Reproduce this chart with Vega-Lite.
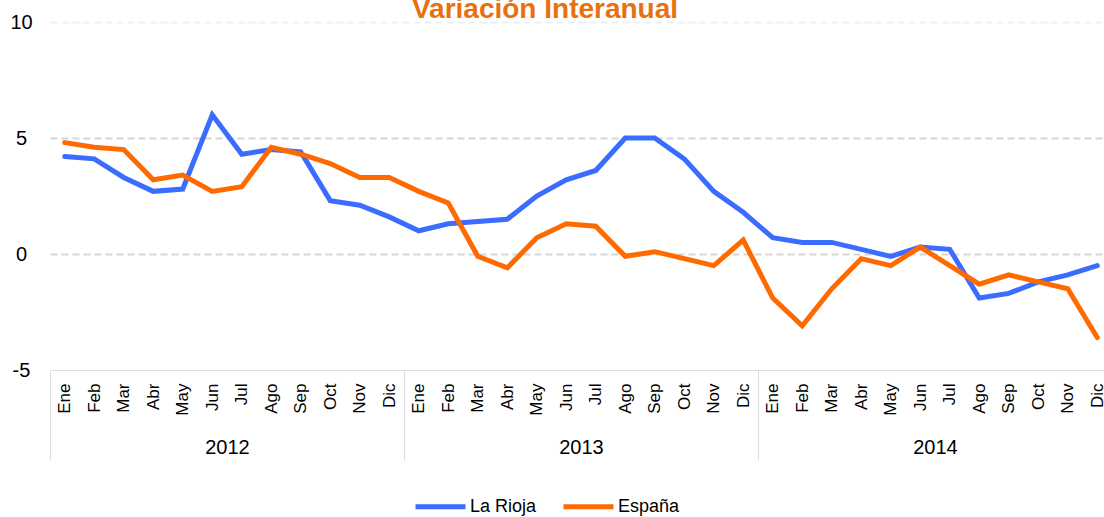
{
  "$schema": "https://vega.github.io/schema/vega-lite/v6.json",
  "width": 1054,
  "height": 348,
  "autosize": {"type": "none"},
  "padding": {"left": 50, "top": 22, "right": 0, "bottom": 147},
  "background": "white",
  "config": {"font": "Liberation Sans", "view": {"stroke": null}},
  "title": {
    "text": "Variación Interanual",
    "color": "#E8700F",
    "fontSize": 28,
    "fontWeight": "bold",
    "anchor": "middle",
    "dx": -32,
    "baseline": "alphabetic",
    "offset": -34
  },
  "data": {
    "values": [
      {"p": "2012 Ene", "a": "2012", "s": "La Rioja", "v": 4.2},
      {"p": "2012 Feb", "a": "2012", "s": "La Rioja", "v": 4.1},
      {"p": "2012 Mar", "a": "2012", "s": "La Rioja", "v": 3.3},
      {"p": "2012 Abr", "a": "2012", "s": "La Rioja", "v": 2.7},
      {"p": "2012 May", "a": "2012", "s": "La Rioja", "v": 2.8},
      {"p": "2012 Jun", "a": "2012", "s": "La Rioja", "v": 6.0},
      {"p": "2012 Jul", "a": "2012", "s": "La Rioja", "v": 4.3},
      {"p": "2012 Ago", "a": "2012", "s": "La Rioja", "v": 4.5},
      {"p": "2012 Sep", "a": "2012", "s": "La Rioja", "v": 4.4},
      {"p": "2012 Oct", "a": "2012", "s": "La Rioja", "v": 2.3},
      {"p": "2012 Nov", "a": "2012", "s": "La Rioja", "v": 2.1},
      {"p": "2012 Dic", "a": "2012", "s": "La Rioja", "v": 1.6},
      {"p": "2013 Ene", "a": "2013", "s": "La Rioja", "v": 1.0},
      {"p": "2013 Feb", "a": "2013", "s": "La Rioja", "v": 1.3},
      {"p": "2013 Mar", "a": "2013", "s": "La Rioja", "v": 1.4},
      {"p": "2013 Abr", "a": "2013", "s": "La Rioja", "v": 1.5},
      {"p": "2013 May", "a": "2013", "s": "La Rioja", "v": 2.5},
      {"p": "2013 Jun", "a": "2013", "s": "La Rioja", "v": 3.2},
      {"p": "2013 Jul", "a": "2013", "s": "La Rioja", "v": 3.6},
      {"p": "2013 Ago", "a": "2013", "s": "La Rioja", "v": 5.0},
      {"p": "2013 Sep", "a": "2013", "s": "La Rioja", "v": 5.0},
      {"p": "2013 Oct", "a": "2013", "s": "La Rioja", "v": 4.1},
      {"p": "2013 Nov", "a": "2013", "s": "La Rioja", "v": 2.7},
      {"p": "2013 Dic", "a": "2013", "s": "La Rioja", "v": 1.8},
      {"p": "2014 Ene", "a": "2014", "s": "La Rioja", "v": 0.7},
      {"p": "2014 Feb", "a": "2014", "s": "La Rioja", "v": 0.5},
      {"p": "2014 Mar", "a": "2014", "s": "La Rioja", "v": 0.5},
      {"p": "2014 Abr", "a": "2014", "s": "La Rioja", "v": 0.2},
      {"p": "2014 May", "a": "2014", "s": "La Rioja", "v": -0.1},
      {"p": "2014 Jun", "a": "2014", "s": "La Rioja", "v": 0.3},
      {"p": "2014 Jul", "a": "2014", "s": "La Rioja", "v": 0.2},
      {"p": "2014 Ago", "a": "2014", "s": "La Rioja", "v": -1.9},
      {"p": "2014 Sep", "a": "2014", "s": "La Rioja", "v": -1.7},
      {"p": "2014 Oct", "a": "2014", "s": "La Rioja", "v": -1.2},
      {"p": "2014 Nov", "a": "2014", "s": "La Rioja", "v": -0.9},
      {"p": "2014 Dic", "a": "2014", "s": "La Rioja", "v": -0.5},
      {"p": "2012 Ene", "a": "2012", "s": "España", "v": 4.8},
      {"p": "2012 Feb", "a": "2012", "s": "España", "v": 4.6},
      {"p": "2012 Mar", "a": "2012", "s": "España", "v": 4.5},
      {"p": "2012 Abr", "a": "2012", "s": "España", "v": 3.2},
      {"p": "2012 May", "a": "2012", "s": "España", "v": 3.4},
      {"p": "2012 Jun", "a": "2012", "s": "España", "v": 2.7},
      {"p": "2012 Jul", "a": "2012", "s": "España", "v": 2.9},
      {"p": "2012 Ago", "a": "2012", "s": "España", "v": 4.6},
      {"p": "2012 Sep", "a": "2012", "s": "España", "v": 4.3},
      {"p": "2012 Oct", "a": "2012", "s": "España", "v": 3.9},
      {"p": "2012 Nov", "a": "2012", "s": "España", "v": 3.3},
      {"p": "2012 Dic", "a": "2012", "s": "España", "v": 3.3},
      {"p": "2013 Ene", "a": "2013", "s": "España", "v": 2.7},
      {"p": "2013 Feb", "a": "2013", "s": "España", "v": 2.2},
      {"p": "2013 Mar", "a": "2013", "s": "España", "v": -0.1},
      {"p": "2013 Abr", "a": "2013", "s": "España", "v": -0.6},
      {"p": "2013 May", "a": "2013", "s": "España", "v": 0.7},
      {"p": "2013 Jun", "a": "2013", "s": "España", "v": 1.3},
      {"p": "2013 Jul", "a": "2013", "s": "España", "v": 1.2},
      {"p": "2013 Ago", "a": "2013", "s": "España", "v": -0.1},
      {"p": "2013 Sep", "a": "2013", "s": "España", "v": 0.1},
      {"p": "2013 Oct", "a": "2013", "s": "España", "v": -0.2},
      {"p": "2013 Nov", "a": "2013", "s": "España", "v": -0.5},
      {"p": "2013 Dic", "a": "2013", "s": "España", "v": 0.6},
      {"p": "2014 Ene", "a": "2014", "s": "España", "v": -1.9},
      {"p": "2014 Feb", "a": "2014", "s": "España", "v": -3.1},
      {"p": "2014 Mar", "a": "2014", "s": "España", "v": -1.5},
      {"p": "2014 Abr", "a": "2014", "s": "España", "v": -0.2},
      {"p": "2014 May", "a": "2014", "s": "España", "v": -0.5},
      {"p": "2014 Jun", "a": "2014", "s": "España", "v": 0.3},
      {"p": "2014 Jul", "a": "2014", "s": "España", "v": -0.5},
      {"p": "2014 Ago", "a": "2014", "s": "España", "v": -1.3},
      {"p": "2014 Sep", "a": "2014", "s": "España", "v": -0.9},
      {"p": "2014 Oct", "a": "2014", "s": "España", "v": -1.2},
      {"p": "2014 Nov", "a": "2014", "s": "España", "v": -1.5},
      {"p": "2014 Dic", "a": "2014", "s": "España", "v": -3.6}
    ]
  },
  "layer": [
    {
      "mark": {"type": "line", "strokeWidth": 5, "strokeCap": "round"},
      "encoding": {
        "x": {
          "field": "p",
          "type": "ordinal",
          "sort": null,
          "scale": {"range": [0, 1062]},
          "axis": {
            "title": null,
            "orient": "bottom",
            "offset": 0,
            "labelAngle": -90,
            "labelExpr": "split(datum.label, ' ')[1]",
            "labelFontSize": 17,
            "labelColor": "#000000",
            "labelPadding": 13,
            "ticks": false,
            "tickSize": 0,
            "domainColor": "#dddddd",
            "domainWidth": 1,
            "grid": false
          }
        },
        "y": {
          "field": "v",
          "type": "quantitative",
          "scale": {"domain": [-5, 10], "nice": false, "zero": false},
          "axis": {
            "title": null,
            "values": [-5, 0, 5, 10],
            "labelExpr": "'' + datum.value",
            "domain": false,
            "ticks": false,
            "tickSize": 0,
            "labelFontSize": 20,
            "labelColor": "#000000",
            "labelAlign": "center",
            "labelPadding": 29,
            "gridColor": {"condition": {"test": "datum.value === 10", "value": "#f0f0f0"}, "value": "#d6d6d6"},
            "gridOpacity": {"condition": {"test": "datum.value === -5", "value": 0}, "value": 1},
            "gridDash": [7, 4],
            "gridWidth": 2
          }
        },
        "color": {
          "field": "s",
          "type": "nominal",
          "scale": {"domain": ["La Rioja", "España"], "range": ["#3A6DFF", "#FF6A00"]},
          "legend": {
            "title": null,
            "orient": "none",
            "legendX": 363,
            "legendY": 457,
            "direction": "horizontal",
            "padding": 0,
            "symbolType": "stroke",
            "symbolSize": 2500,
            "symbolStrokeWidth": 5,
            "labelFontSize": 18,
            "labelColor": "#000000",
            "labelOffset": 2,
            "columnPadding": 16
          }
        }
      }
    },
    {
      "mark": {"type": "tick", "opacity": 0},
      "encoding": {
        "x": {
          "field": "a",
          "type": "ordinal",
          "scale": {"range": [0, 1062], "paddingInner": 0, "paddingOuter": 0},
          "axis": {
            "title": null,
            "orient": "bottom",
            "offset": 0,
            "domain": false,
            "ticks": true,
            "tickBand": "extent",
            "tickSize": 90,
            "tickColor": "#dddddd",
            "tickWidth": 1,
            "labelFontSize": 20,
            "labelColor": "#000000",
            "labelPadding": -23,
            "labelAngle": 0,
            "grid": false
          }
        },
        "y": {"field": "v", "type": "quantitative"}
      }
    }
  ],
  "resolve": {"scale": {"x": "independent"}, "axis": {"x": "independent"}}
}
